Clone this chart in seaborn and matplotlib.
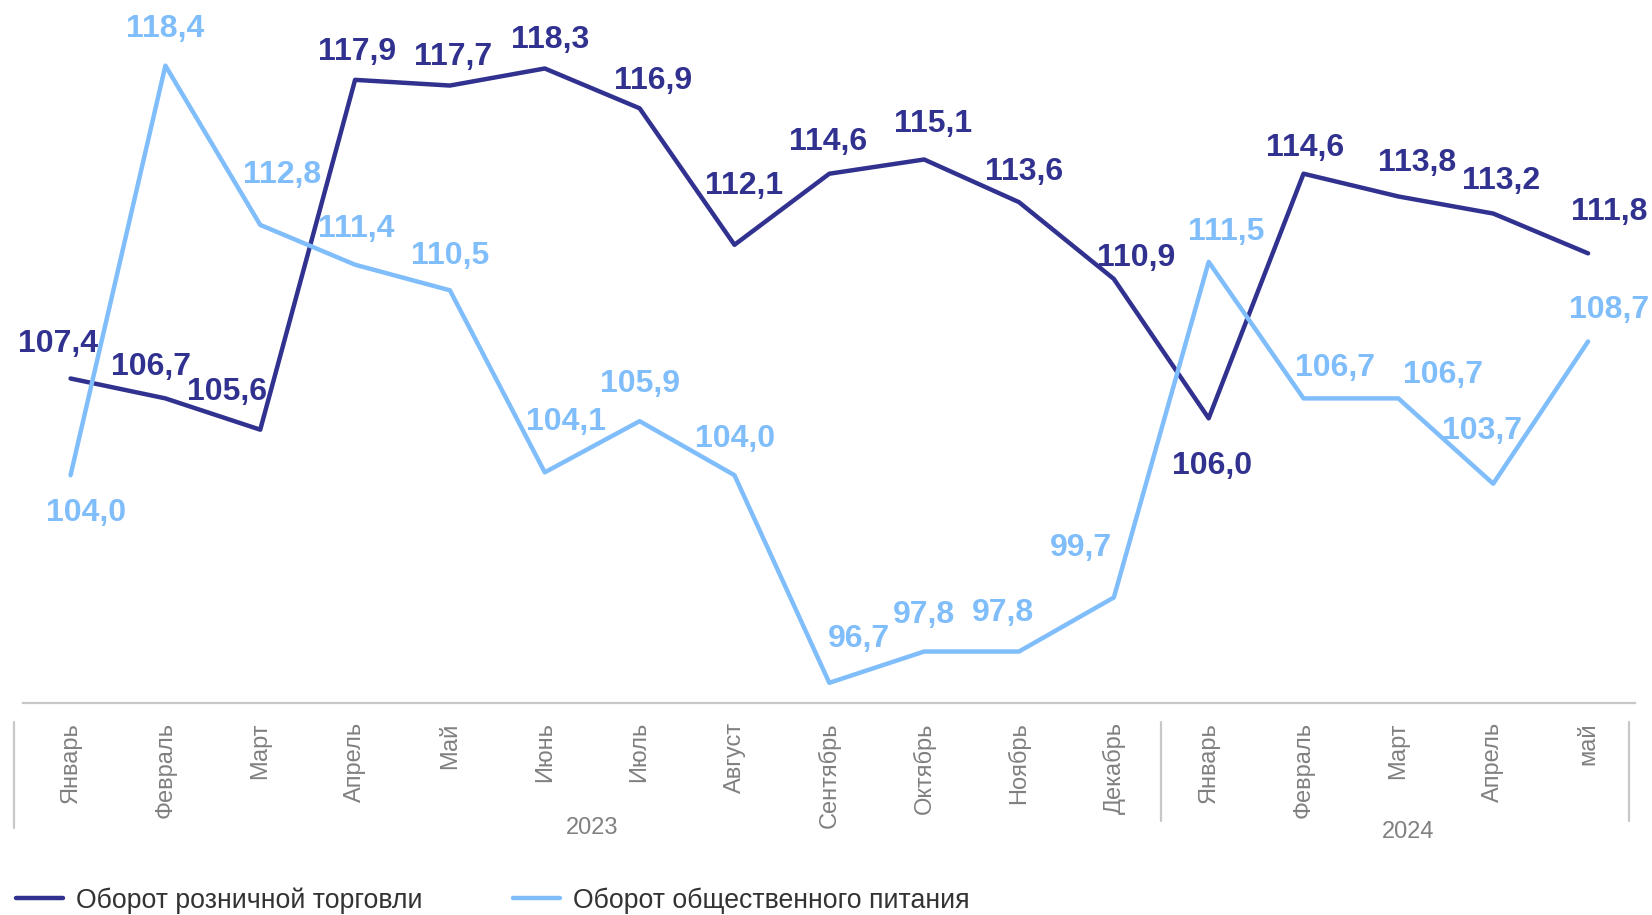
import numpy as np
import pandas as pd
import matplotlib
matplotlib.use("Agg")
import matplotlib.pyplot as plt
import matplotlib.transforms as mtransforms
import seaborn as sns

# Данные
months = ["Январь", "Февраль", "Март", "Апрель", "Май", "Июнь", "Июль", "Август",
          "Сентябрь", "Октябрь", "Ноябрь", "Декабрь",
          "Январь", "Февраль", "Март", "Апрель", "май"]
years = ["2023", "2024"]
retail = [107.4, 106.7, 105.6, 117.9, 117.7, 118.3, 116.9, 112.1, 114.6, 115.1,
          113.6, 110.9, 106.0, 114.6, 113.8, 113.2, 111.8]
catering = [104.0, 118.4, 112.8, 111.4, 110.5, 104.1, 105.9, 104.0, 96.7, 97.8,
            97.8, 99.7, 111.5, 106.7, 106.7, 103.7, 108.7]
series_names = ["Оборот розничной торговли", "Оборот общественного питания"]

# Смещения подписей (пиксели)
retail_off = [(-12, 33), (-14, 30), (-32, 36), (2, 26), (3, 27), (5, 27), (13, 26),
              (9, 56), (-1, 30), (8, 34), (5, 29), (21, 20), (3, -45), (1, 24),
              (18, 32), (7, 31), (20, 39)]
catering_off = [(15, -36), (0, 35), (21, 47), (1, 34), (0, 33), (20, 48), (0, 35),
                (1, 34), (28, 42), (0, 35), (-15, 37), (-31, 47), (17, 28), (30, 29),
                (42, 22), (-11, 50), (20, 30)]

DARK = "#31318f"
LIGHT = "#80bdfb"
GRAY = "#808080"

sns.set_theme(style="white")
plt.rcParams["font.family"] = ["Liberation Sans", "DejaVu Sans"]

df = pd.DataFrame({
    "pos": list(range(len(months))) * 2,
    "value": retail + catering,
    "series": [series_names[0]] * len(retail) + [series_names[1]] * len(catering),
})

fig = plt.figure(figsize=(16.52, 9.15), dpi=100)
ax = fig.add_axes([0.014, 0.232, 0.976, 0.746])

sns.lineplot(data=df, x="pos", y="value", hue="series",
             palette=[DARK, LIGHT], linewidth=3.2, ax=ax, legend=False,
             sort=False)

ax.set_xlim(-0.5, 16.5)
ax.set_ylim(96, 120)
ax.set_xlabel("")
ax.set_ylabel("")
ax.set_yticks([])
ax.set_xticks(range(len(months)))
ax.set_xticklabels(months, rotation=90, color=GRAY, fontsize=17)
ax.tick_params(axis="x", length=0, pad=14)
for side in ["top", "left", "right"]:
    ax.spines[side].set_visible(False)
ax.spines["bottom"].set_color("#c8c8c8")
ax.spines["bottom"].set_linewidth(1.6)

k = 1.054
for vals, offs, col in [(retail, retail_off, DARK), (catering, catering_off, LIGHT)]:
    for i, (v, (dx, dy)) in enumerate(zip(vals, offs)):
        ax.annotate(f"{v:.1f}".replace(".", ","), (i, v),
                    xytext=(dx * k, dy * k), textcoords="offset pixels",
                    ha="center", va="center", fontsize=23, fontweight="bold",
                    color=col)

# Разделители по годам
trans = mtransforms.blended_transform_factory(ax.transData, ax.transAxes)
for xs, y_end in [(-0.6, -0.183), (11.5, -0.174), (16.43, -0.174)]:
    ax.plot([xs, xs], [-0.028, y_end], color="#c8c8c8", linewidth=1.6,
            transform=trans, clip_on=False)
ax.text(5.5, -0.183, years[0], transform=trans, ha="center", va="center",
        color=GRAY, fontsize=17)
ax.text(14.1, -0.189, years[1], transform=trans, ha="center", va="center",
        color=GRAY, fontsize=17)

handles = [plt.Line2D([], [], color=DARK, linewidth=3.2),
           plt.Line2D([], [], color=LIGHT, linewidth=3.2)]
fig.legend(handles, series_names, loc="center left",
           bbox_to_anchor=(0.0097, 0.016), ncol=2, frameon=False,
           fontsize=19.2, handlelength=1.75, handletextpad=0.5,
           columnspacing=3.4, borderpad=0, borderaxespad=0,
           labelcolor="#333333")

fig.savefig("out.png", dpi=100)
